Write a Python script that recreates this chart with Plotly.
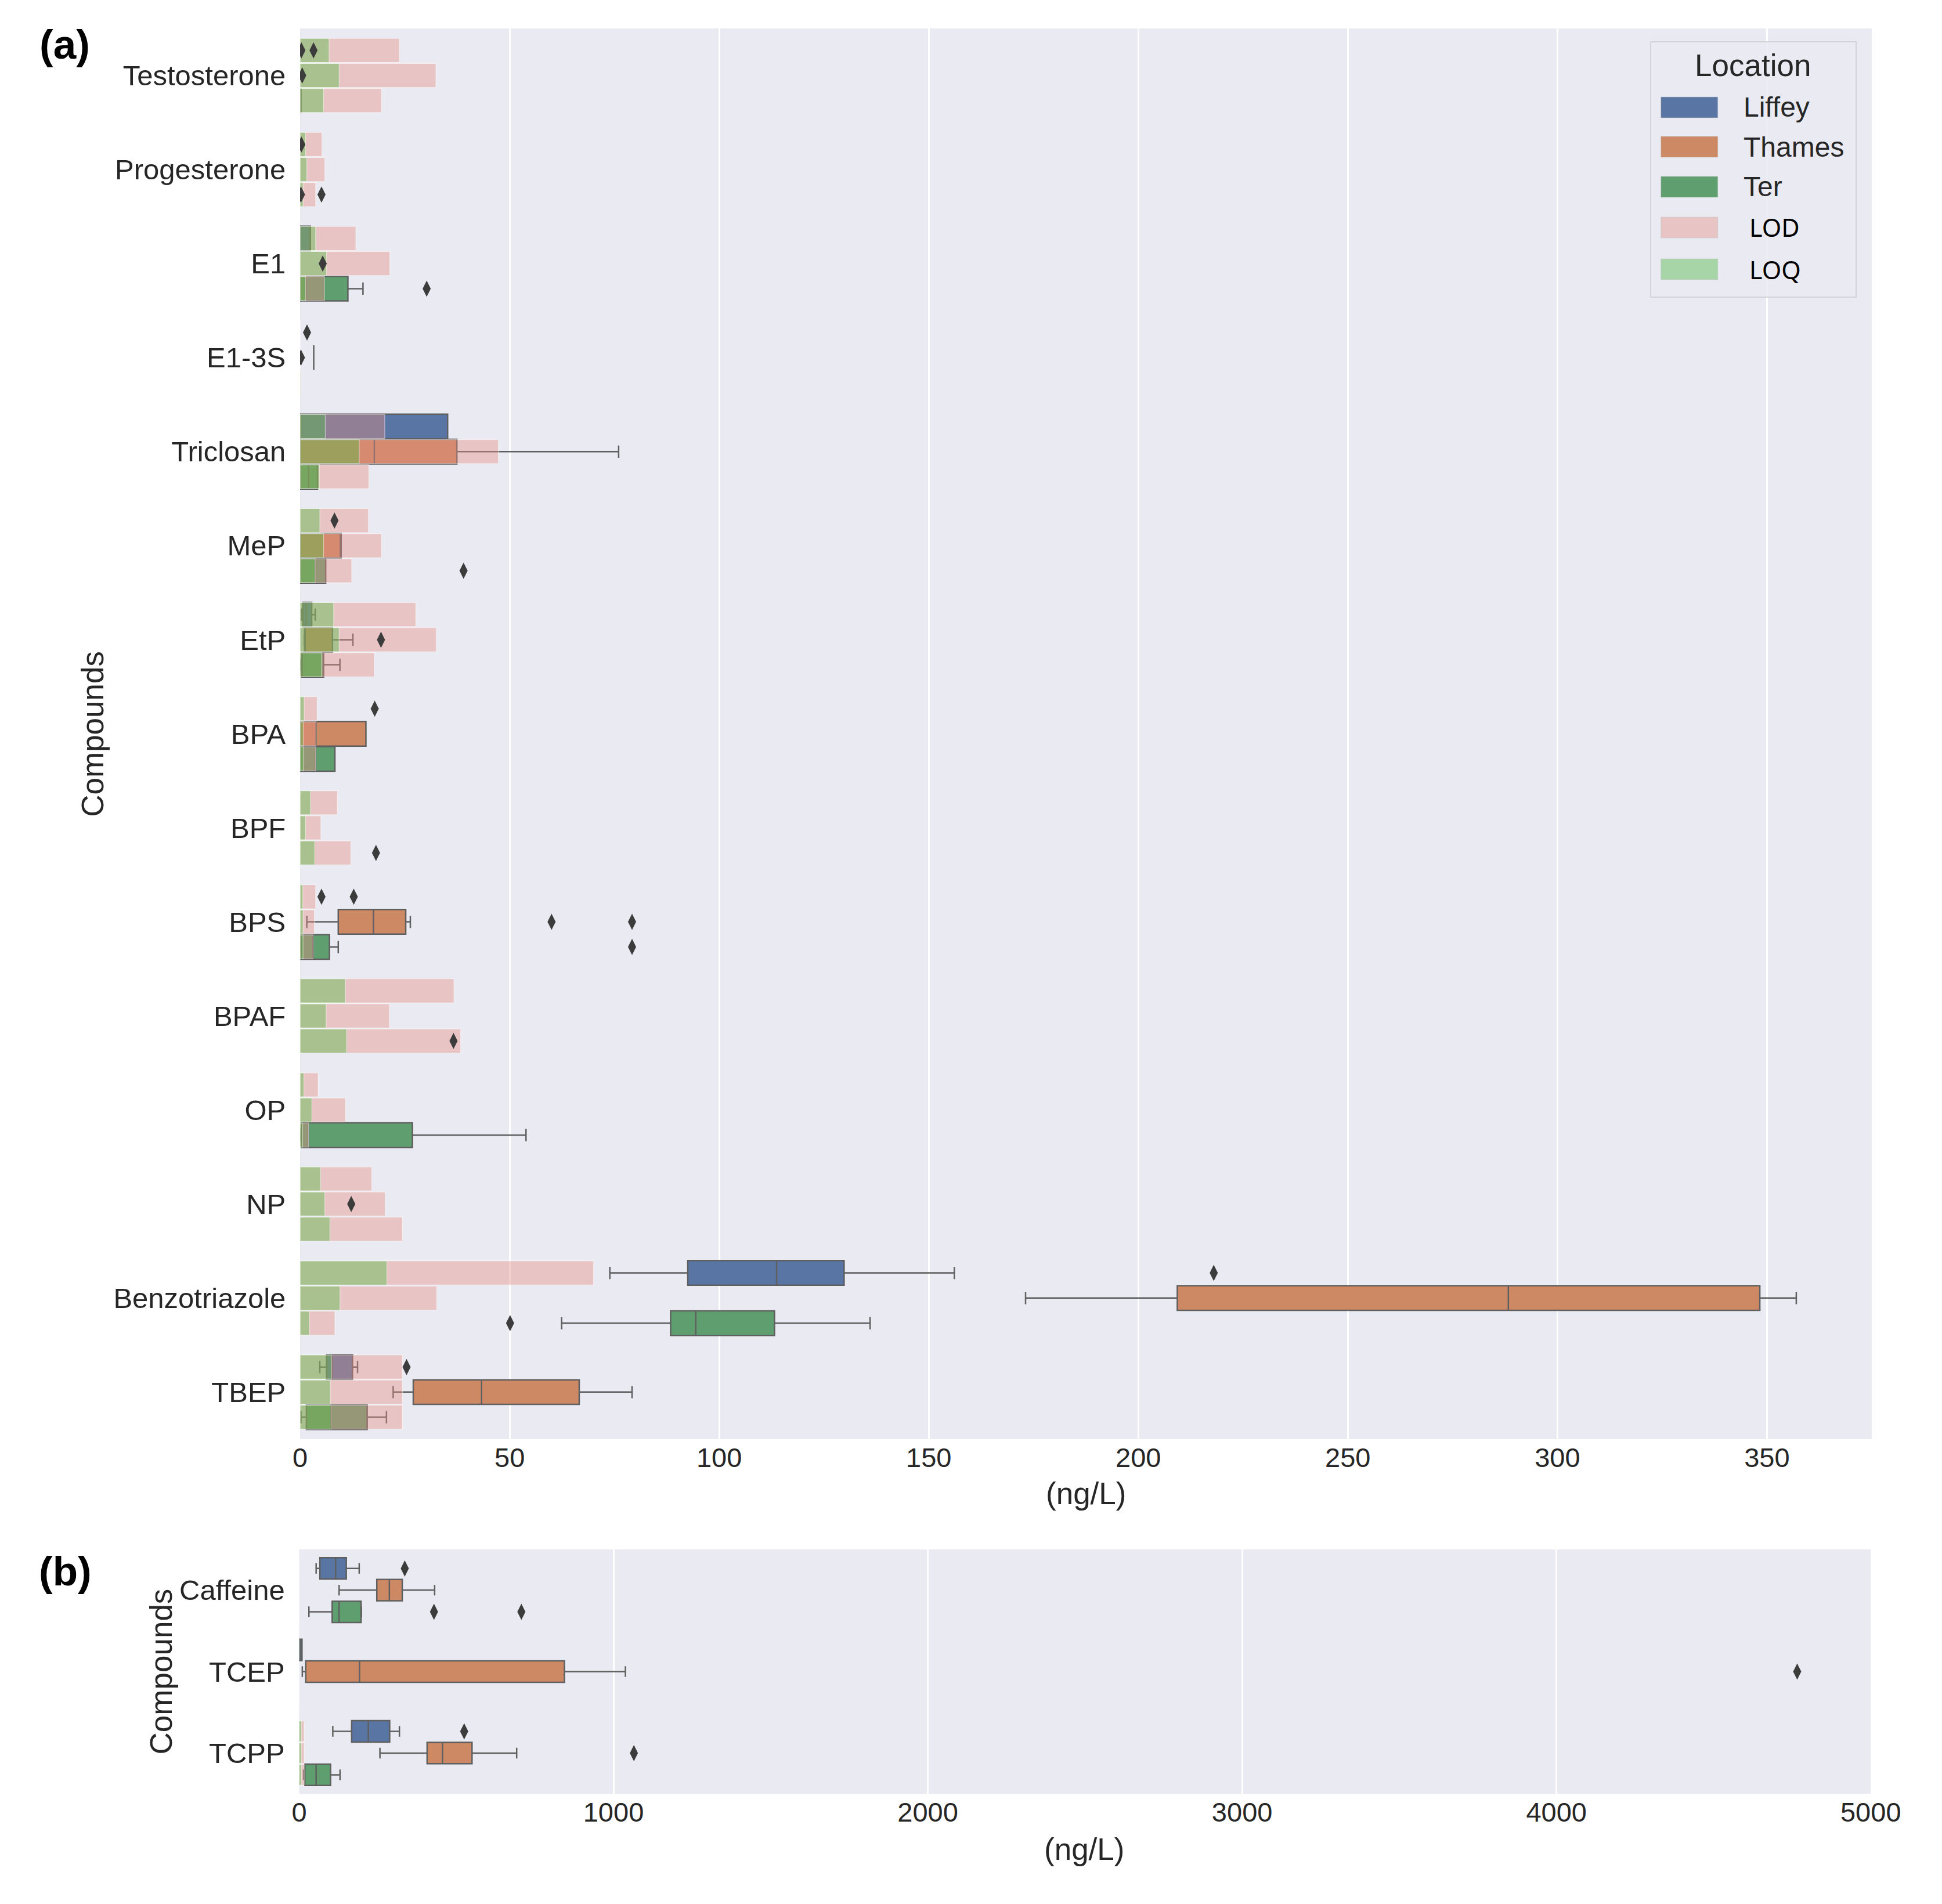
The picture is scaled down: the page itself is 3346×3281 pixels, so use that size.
import plotly.graph_objects as go

# ---- categories ----
compounds_a = ["Testosterone", "Progesterone", "E1", "E1-3S", "Triclosan", "MeP", "EtP",
               "BPA", "BPF", "BPS", "BPAF", "OP", "NP", "Benzotriazole", "TBEP"]
compounds_b = ["Caffeine", "TCEP", "TCPP"]
locations = ["Liffey", "Thames", "Ter"]

# ---- panel (a): LOD / LOQ (ng/L) ----
lod_liffey = [23.7, 5.2, 13.3, 0, 20.2, 16.3, 27.6, 4.05, 8.9, 3.7, 36.7, 4.3, 17.1, 70.0, 24.4]
lod_thames = [32.4, 5.9, 21.4, 0, 47.3, 19.4, 32.5, 3.8, 4.95, 3.4, 21.3, 10.8, 20.3, 32.6, 24.4]
lod_ter = [19.4, 3.7, 5.8, 0.2, 16.4, 12.3, 17.7, 3.7, 12.1, 3.1, 38.3, 2.0, 24.4, 8.3, 24.4]
loq_liffey = [6.9, 1.3, 3.7, 0, 6.0, 4.7, 8.0, 0.96, 2.5, 0.64, 10.8, 0.9, 4.9, 20.7, 7.5]
loq_thames = [9.3, 1.6, 6.3, 0, 14.1, 5.6, 9.3, 0.75, 1.3, 0.7, 6.2, 2.8, 5.9, 9.5, 7.2]
loq_ter = [5.6, 0.7, 1.3, 0.1, 4.6, 3.6, 5.1, 0.75, 3.5, 0.7, 11.1, 0.6, 7.1, 2.2, 7.4]

# box stats: (q1, median, q3, lower whisker, upper whisker); None = no box
box_liffey = [None, None, (0, 2.3, 2.45, 0, 2.45), None, (0, 0, 35.2, 0, 35.2), None,
              (0.64, 1.4, 2.77, 0.3, 3.6), None, None, None, None, None, None,
              (92.5, 113.7, 129.8, 73.9, 156.1), (6.3, 7.6, 12.5, 4.7, 13.7)]
box_thames = [None, None, None, (3.25, 3.25, 3.25, 3.25, 3.25), (0, 17.7, 37.4, 0, 76.0),
              (0, 9.6, 9.8, 0, 9.8), (1.06, 1.06, 7.72, 1.0, 12.6), (0, 3.8, 15.7, 0, 15.7), None,
              (9.1, 17.5, 25.2, 1.6, 26.3), None, None, None,
              (209.3, 288.3, 348.3, 173.1, 357.0), (27.0, 43.3, 66.6, 22.2, 79.2)]
box_ter = [(0.2, 0.2, 0.2, 0.2, 0.2), None, (0, 1.3, 11.4, 0, 15.0), None, (0, 2.0, 4.15, 0, 4.15),
           (0, 3.6, 6.1, 0, 6.1), (0.37, 0.5, 5.6, 0, 9.5), (0, 3.7, 8.3, 0, 8.3), None,
           (0.2, 3.1, 7.0, 0, 9.1), None, (0.3, 2.0, 26.8, 0, 53.9), None,
           (88.4, 94.4, 113.2, 62.4, 136.0), (1.5, 7.4, 16.0, 0.2, 20.6)]

out_liffey = [[0.3, 3.2], [0.3], [], [1.65], [], [8.2], [], [17.8], [], [5.1, 12.8], [], [], [], [218.0], [25.4]]
out_thames = [[0.5], [], [5.4], [0.2], [], [], [19.3], [], [], [60.0, 79.2], [], [], [12.2], [], []]
out_ter = [[], [0.2, 5.1], [30.2], [], [], [39.0], [], [], [18.1], [79.2], [36.6], [], [], [50.1], []]

# ---- panel (b) ----
lod_b = [[0, 0, 16], [0, 0, 16], [0, 0, 16]]
loq_b = [[0, 0, 7], [0, 0, 7], [0, 0, 7]]
box_b_liffey = [(66, 116, 150, 54, 191), (0, 3, 9, 0, 9), (167, 220, 288, 107, 319)]
box_b_thames = [(247, 287, 328, 127, 431), (21, 192, 844, 10, 1038), (407, 456, 550, 257, 692)]
box_b_ter = [(105, 127, 197, 31, 198), None, (18, 54, 100, 14, 130)]
out_b_liffey = [[336], [], [525]]
out_b_thames = [[], [4766], [1065]]
out_b_ter = [[429, 707], [], []]

# ---- style ----
box_colors = ["#5875A4", "#CC8963", "#5F9E6E"]
lod_color = "rgba(229,141,132,0.41)"
loq_color = "rgba(72,191,65,0.40)"
edge = "rgb(95,95,95)"
offsets = [-0.2667, 0, 0.2667]
FONT = "Liberation Sans, Arial, sans-serif"
TXT = "#262626"
W, H = 3346, 3281

fig = go.Figure()


def add_panel(n, boxes, lods, loqs, outs, xa, ya, ya_over):
    for k, loc in enumerate(locations):
        idx = [i for i, b in enumerate(boxes[k]) if b is not None]
        if idx:
            fig.add_trace(go.Box(
                y=[i + offsets[k] for i in idx],
                q1=[boxes[k][i][0] for i in idx],
                median=[boxes[k][i][1] for i in idx],
                q3=[boxes[k][i][2] for i in idx],
                lowerfence=[boxes[k][i][3] for i in idx],
                upperfence=[boxes[k][i][4] for i in idx],
                orientation="h", width=0.262, whiskerwidth=0.5,
                fillcolor=box_colors[k], line=dict(color=edge, width=2.5),
                boxpoints=False, name=loc, showlegend=False,
                xaxis=xa, yaxis=ya))
    # LOD then LOQ, drawn translucent on top of the boxes
    for vals, col in ((lods, lod_color), (loqs, loq_color)):
        for k in range(3):
            fig.add_trace(go.Bar(
                x=vals[k], y=[i + offsets[k] for i in range(n)],
                orientation="h", width=0.255,
                marker=dict(color=col, line=dict(width=1.2, color="rgba(255,255,255,0.5)")),
                showlegend=False, xaxis=xa, yaxis=ya_over))
    for k in range(3):
        xs, ys = [], []
        for i, o in enumerate(outs[k]):
            xs += o
            ys += [i + offsets[k]] * len(o)
        fig.add_trace(go.Scatter(
            x=xs, y=ys, mode="markers",
            marker=dict(symbol="diamond-tall", size=20, color="#3c3c3c"),
            showlegend=False, xaxis=xa, yaxis=ya_over))


add_panel(len(compounds_a), [box_liffey, box_thames, box_ter],
          [lod_liffey, lod_thames, lod_ter], [loq_liffey, loq_thames, loq_ter],
          [out_liffey, out_thames, out_ter], "x", "y", "y3")
add_panel(len(compounds_b), [box_b_liffey, box_b_thames, box_b_ter],
          lod_b, loq_b, [out_b_liffey, out_b_thames, out_b_ter], "x2", "y2", "y4")

xcommon = dict(showgrid=True, gridcolor="white", gridwidth=2.5, zeroline=False, showline=False,
               ticks="", tickfont=dict(size=47, color=TXT, family=FONT))
ycommon = dict(showgrid=False, zeroline=False, showline=False,
               ticks="outside", ticklen=14, tickcolor="rgba(0,0,0,0)",
               tickfont=dict(size=49, color=TXT, family=FONT))
hidden = dict(showgrid=False, zeroline=False, showticklabels=False, ticks="", showline=False)

fig.update_layout(
    width=W, height=H,
    margin=dict(l=0, r=0, t=0, b=0),
    paper_bgcolor="white", plot_bgcolor="#EAEAF2",
    boxmode="overlay", barmode="overlay", showlegend=False,
    font=dict(family=FONT, color=TXT),
    xaxis=dict(domain=[0.1512, 0.9765], anchor="y", range=[0, 375],
               tickvals=[0, 50, 100, 150, 200, 250, 300, 350], **xcommon),
    yaxis=dict(domain=[0.2466, 0.9875], anchor="x", range=[14.5, -0.5],
               tickvals=list(range(len(compounds_a))), ticktext=compounds_a, **ycommon),
    yaxis3=dict(overlaying="y", anchor="x", range=[14.5, -0.5], **hidden),
    xaxis2=dict(domain=[0.1507, 0.9760], anchor="y2", range=[0, 5000],
                tickvals=[0, 1000, 2000, 3000, 4000, 5000], **xcommon),
    yaxis2=dict(domain=[0.0603, 0.1887], anchor="x2", range=[2.5, -0.5],
                tickvals=list(range(len(compounds_b))), ticktext=compounds_b, **ycommon),
    yaxis4=dict(overlaying="y2", anchor="x2", range=[2.5, -0.5], **hidden),
)

# panel letters and axis titles
ann = [
    dict(text="<b>(a)</b>", x=0.0275, y=0.9790, size=71, color="black", angle=0),
    dict(text="<b>(b)</b>", x=0.0278, y=0.1771, size=71, color="black", angle=0),
    dict(text="(ng/L)", x=0.5640, y=0.2182, size=53, color=TXT, angle=0),
    dict(text="(ng/L)", x=0.5628, y=0.0311, size=53, color=TXT, angle=0),
    dict(text="Compounds", x=0.0421, y=0.6170, size=53, color=TXT, angle=-90),
    dict(text="Compounds", x=0.0783, y=0.1245, size=53, color=TXT, angle=-90),
]
for a in ann:
    fig.add_annotation(text=a["text"], x=a["x"], y=a["y"], xref="paper", yref="paper",
                       showarrow=False, textangle=a["angle"], xanchor="center", yanchor="middle",
                       font=dict(size=a["size"], color=a["color"], family=FONT))

# legend (drawn as a seaborn-style box)
fig.add_shape(type="rect", xref="paper", yref="paper", x0=0.8604, x1=0.9683, y0=0.8464, y1=0.9805,
              fillcolor="rgba(234,234,242,0.85)", line=dict(color="#D2D2D8", width=2), layer="above")
fig.add_annotation(text="Location", x=0.9139, y=0.9683, xref="paper", yref="paper", showarrow=False,
                   xanchor="center", yanchor="middle", font=dict(size=53, color=TXT, family=FONT))
legend_labels = locations + ["LOD", "LOQ"]
legend_colors = box_colors + ["#E8C4C5", "#A8D5A8"]
legend_rows = [177, 245, 314, 384, 456]
for lab, col, row in zip(legend_labels, legend_colors, legend_rows):
    yc = 1 - row / H
    fig.add_shape(type="rect", xref="paper", yref="paper", x0=0.8658, x1=0.8957,
                  y0=yc - 18 / H, y1=yc + 18 / H, fillcolor=col,
                  line=dict(color="rgba(200,200,200,0.6)", width=1), layer="above")
    extra = lab in ("LOD", "LOQ")
    fig.add_annotation(text=lab, x=0.9115 if extra else 0.9085, y=yc, xref="paper", yref="paper",
                       showarrow=False, xanchor="left", yanchor="middle",
                       font=dict(size=43 if extra else 48, color="black" if extra else TXT,
                                 family="Noto Sans, sans-serif" if extra else FONT))

fig.write_html("out.html")
